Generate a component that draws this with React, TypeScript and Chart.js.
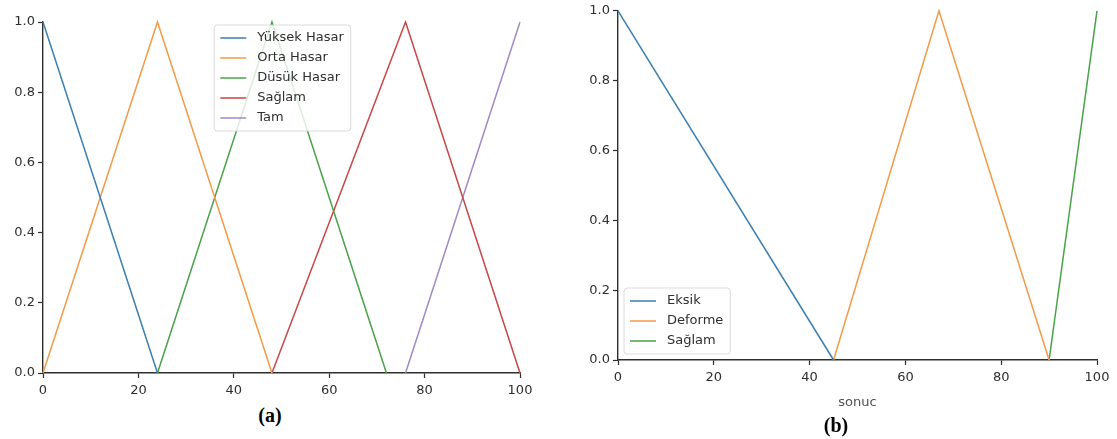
import React, { useEffect, useRef } from "react";
import { Chart, registerables } from "chart.js";

Chart.register(...registerables);

// ---------- Data: panel (a) ----------
const aLabels = ["Yüksek Hasar", "Orta Hasar", "Düsük Hasar", "Sağlam", "Tam"];
const aYuksekX = [0, 24];
const aYuksekY = [1, 0];
const aOrtaX = [0, 24, 48];
const aOrtaY = [0, 1, 0];
const aDusukX = [24, 48, 72];
const aDusukY = [0, 1, 0];
const aSaglamX = [48, 76, 100];
const aSaglamY = [0, 1, 0];
const aTamX = [76, 100];
const aTamY = [0, 1];

// ---------- Data: panel (b) ----------
const bLabels = ["Eksik", "Deforme", "Sağlam"];
const bEksikX = [0, 45];
const bEksikY = [1, 0];
const bDeformeX = [45, 67, 90];
const bDeformeY = [0, 1, 0];
const bSaglamX = [90, 100];
const bSaglamY = [0, 1];
const bXTitle = "sonuc";

const xTicks = [0, 20, 40, 60, 80, 100];
const yTicks = [0, 0.2, 0.4, 0.6, 0.8, 1.0];

const COLORS = ["#3a7fb2", "#f39a48", "#48a348", "#c84646", "#9f8ac4"];
const FONT = "'DejaVu Sans', sans-serif";
const AXIS = "#2e2e2e";

const toPts = (xs: number[], ys: number[]) => xs.map((x, i) => ({ x, y: ys[i] }));

const mplLegend = {
  id: "mplLegend",
  afterDatasetsDraw(chart: any, _args: any, opts: any) {
    const { ctx, chartArea } = chart;
    const ds = chart.data.datasets;
    ctx.save();
    ctx.font = `13px ${FONT}`;
    let tw = 0;
    ds.forEach((d: any) => (tw = Math.max(tw, ctx.measureText(d.label).width)));
    const rowH = 20;
    const w = 43 + tw + 7;
    const h = ds.length * rowH + 6;
    let left: number, top: number;
    if (opts.loc === "upper center") {
      left = (chartArea.left + chartArea.right) / 2 - w / 2 + 1;
      top = chartArea.top + 3;
    } else {
      left = chartArea.left + 6;
      top = chartArea.bottom - 6 - h;
    }
    const r = 3;
    ctx.beginPath();
    ctx.moveTo(left + r, top);
    ctx.arcTo(left + w, top, left + w, top + h, r);
    ctx.arcTo(left + w, top + h, left, top + h, r);
    ctx.arcTo(left, top + h, left, top, r);
    ctx.arcTo(left, top, left + w, top, r);
    ctx.closePath();
    ctx.fillStyle = "rgba(255,255,255,0.8)";
    ctx.fill();
    ctx.strokeStyle = "rgba(215,215,215,0.9)";
    ctx.lineWidth = 1;
    ctx.stroke();
    ds.forEach((d: any, i: number) => {
      const cy = top + 13 + i * rowH;
      ctx.beginPath();
      ctx.moveTo(left + 6, cy);
      ctx.lineTo(left + 32, cy);
      ctx.strokeStyle = d.borderColor;
      ctx.lineWidth = 1.5;
      ctx.stroke();
      ctx.fillStyle = AXIS;
      ctx.textBaseline = "middle";
      ctx.textAlign = "left";
      ctx.fillText(d.label, left + 43, cy);
    });
    ctx.restore();
  },
};

function makeOptions(yWidth: number, xHeight: number, padding: any, legendLoc: string, xTitle?: string) {
  return {
    animation: false,
    responsive: false,
    maintainAspectRatio: false,
    layout: { padding },
    elements: { point: { radius: 0 }, line: { tension: 0 } },
    plugins: {
      legend: { display: false },
      tooltip: { enabled: false },
      mplLegend: { loc: legendLoc },
    },
    scales: {
      x: {
        type: "linear",
        min: 0,
        max: 100,
        afterBuildTicks: (s: any) => {
          s.ticks = xTicks.map((v) => ({ value: v }));
        },
        afterFit: (s: any) => {
          s.height = xHeight;
        },
        ticks: {
          color: AXIS,
          font: { family: FONT, size: 13 },
          padding: 5,
          maxRotation: 0,
          callback: (v: any) => String(v),
        },
        grid: { display: true, drawOnChartArea: false, drawTicks: true, tickLength: 5, tickColor: AXIS, tickWidth: 1.2 },
        border: { display: true, color: AXIS, width: 1.4 },
        title: xTitle
          ? { display: true, text: xTitle, color: "#505050", font: { family: FONT, size: 13 }, padding: { top: 0, bottom: 5 } }
          : { display: false },
      },
      y: {
        type: "linear",
        min: 0,
        max: 1,
        afterBuildTicks: (s: any) => {
          s.ticks = yTicks.map((v) => ({ value: v }));
        },
        afterFit: (s: any) => {
          s.width = yWidth;
        },
        ticks: {
          color: AXIS,
          font: { family: FONT, size: 13 },
          padding: 3,
          callback: (v: any) => Number(v).toFixed(1),
        },
        grid: { display: true, drawOnChartArea: false, drawTicks: true, tickLength: 5, tickColor: AXIS, tickWidth: 1.2 },
        border: { display: true, color: AXIS, width: 1.4 },
      },
    },
  } as any;
}

function lineDs(label: string, xs: number[], ys: number[], color: string) {
  return {
    label,
    data: toPts(xs, ys),
    borderColor: color,
    backgroundColor: color,
    borderWidth: 1.5,
    fill: false,
    pointRadius: 0,
    clip: 2,
  };
}

export default function App() {
  const refA = useRef<HTMLCanvasElement>(null);
  const refB = useRef<HTMLCanvasElement>(null);

  useEffect(() => {
    const a = new Chart(refA.current as HTMLCanvasElement, {
      type: "line",
      data: {
        datasets: [
          lineDs(aLabels[0], aYuksekX, aYuksekY, COLORS[0]),
          lineDs(aLabels[1], aOrtaX, aOrtaY, COLORS[1]),
          lineDs(aLabels[2], aDusukX, aDusukY, COLORS[2]),
          lineDs(aLabels[3], aSaglamX, aSaglamY, COLORS[3]),
          lineDs(aLabels[4], aTamX, aTamY, COLORS[4]),
        ],
      },
      options: makeOptions(43, 27, { left: 0, right: 20, top: 22, bottom: 0 }, "upper center"),
      plugins: [mplLegend],
    } as any);
    const b = new Chart(refB.current as HTMLCanvasElement, {
      type: "line",
      data: {
        datasets: [
          lineDs(bLabels[0], bEksikX, bEksikY, COLORS[0]),
          lineDs(bLabels[1], bDeformeX, bDeformeY, COLORS[1]),
          lineDs(bLabels[2], bSaglamX, bSaglamY, COLORS[2]),
        ],
      },
      options: makeOptions(58, 55, { left: 0, right: 20, top: 8, bottom: 0 }, "lower left", bXTitle),
      plugins: [mplLegend],
    } as any);
    return () => {
      a.destroy();
      b.destroy();
    };
  }, []);

  const caption: React.CSSProperties = {
    position: "absolute",
    fontFamily: "'Liberation Serif', 'Times New Roman', serif",
    fontWeight: "bold",
    fontSize: 20,
    lineHeight: "22px",
    color: "#000",
    transform: "translate(-50%, -50%)",
    whiteSpace: "nowrap",
  };

  return (
    <div style={{ position: "absolute", left: 0, top: 0, width: 1117, height: 439, background: "#fff", overflow: "hidden" }}>
      <canvas ref={refA} width={540} height={400} style={{ position: "absolute", left: 0, top: 0, width: 540, height: 400 }} />
      <canvas ref={refB} width={557} height={415} style={{ position: "absolute", left: 560, top: 0, width: 557, height: 415 }} />
      <div style={{ ...caption, left: 270, top: 415 }}>(a)</div>
      <div style={{ ...caption, left: 836, top: 425 }}>(b)</div>
    </div>
  );
}
